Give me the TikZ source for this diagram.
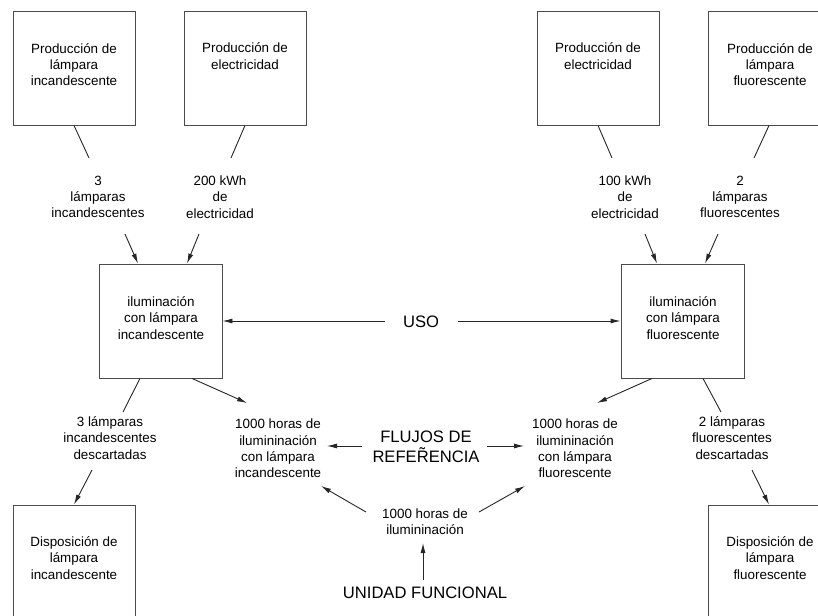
\documentclass[tikz,border=0pt]{standalone}
\usepackage{fontspec}
\setmainfont{Liberation Sans}
\usetikzlibrary{arrows.meta,calc}
\begin{document}
\begin{tikzpicture}[x=1pt,y=-1pt,
  box/.style={draw=black!70, line width=0.9pt, minimum width=122pt, minimum height=114pt, inner sep=0pt},
  lowbox/.style={box, minimum height=125pt},
  small/.style={font=\fontsize{13.4}{16.3}\selectfont, align=center, inner sep=0pt},
  big/.style={font=\fontsize{16.6}{20}\selectfont, align=center, inner sep=0pt},
  link/.style={draw=black!85, line width=0.9pt},
  flow/.style={link, -{Latex[length=10pt,width=5pt]}}]
\useasboundingbox (0,0) rectangle (818,615);

% production processes
\node[box] (p1) at (74,68) {};
\node[small] (p1t) at (74,64.5) {Producción de\\lámpara\\incandescente};
\node[box] (p2) at (245,68) {};
\node[small] (p2t) at (245,56) {Producción de\\electricidad};
\node[box] (p3) at (598,68) {};
\node[small] (p3t) at (598,56) {Producción de\\electricidad};
\node[box] (p4) at (769,68) {};
\node[small] (p4t) at (770,64.5) {Producción de\\lámpara\\fluorescente};

% inputs to the use phase
\node[small] (l1) at (98,197) {3\\lámparas\\incandescentes};
\node[small] (l2) at (220,197) {200 kWh\\de\\electricidad};
\node[small] (l3) at (625,197) {100 kWh\\de\\electricidad};
\node[small] (l4) at (740,197) {2\\lámparas\\fluorescentes};

% use phase
\node[box, minimum width=123pt] (u1) at (160.5,321) {};
\node[small] (u1t) at (161,318) {iluminación\\con lámpara\\incandescente};
\node[box, minimum width=123pt] (u2) at (682.5,321) {};
\node[small] (u2t) at (683,318) {iluminación\\con lámpara\\fluorescente};

% outputs
\node[small] (d1) at (110,438) {3 lámparas\\incandescentes\\descartadas};
\node[small] (d2) at (732,438) {2 lámparas\\fluorescentes\\descartadas};
\node[small] (r1) at (278,448.5) {1000 horas de\\ilumininación\\con lámpara\\incandescente};
\node[small] (r2) at (575,448.5) {1000 horas de\\ilumininación\\con lámpara\\fluorescente};
\node[small] (fu) at (425,522) {1000 horas de\\ilumininación};

% disposal
\node[lowbox] (e1) at (74,567.5) {};
\node[small] (e1t) at (74,558) {Disposición de\\lámpara\\incandescente};
\node[lowbox] (e2) at (769,567.5) {};
\node[small] (e2t) at (770,558) {Disposición de\\lámpara\\fluorescente};

% headings
\node[big] (uso) at (421,322) {USO};
\node[big] (flujos) at (426,447) {FLUJOS DE\\REFE\~RENCIA};
\node[big] (unidad) at (425,593) {UNIDAD FUNCIONAL};

% free ends of the connectors
\coordinate (c1) at (89,158);
\coordinate (c2) at (231,158);
\coordinate (c3) at (612,158);
\coordinate (c4) at (754,158);
\coordinate (a1) at (125,234);
\coordinate (a2) at (199,234);
\coordinate (a3) at (645,234);
\coordinate (a4) at (718,234);
\coordinate (s1) at (385,321);
\coordinate (s2) at (458,321);
\coordinate (c5) at (123,412);
\coordinate (c6) at (721,412);
\coordinate (t1) at (247,403);
\coordinate (t2) at (597,403);
\coordinate (a5) at (92,470);
\coordinate (a6) at (752,470);
\coordinate (fl1) at (362,446);
\coordinate (fl2) at (487,446);
\coordinate (ft1) at (327,446);
\coordinate (ft2) at (524,446);
\coordinate (g1) at (366,512);
\coordinate (g2) at (479,512);
\coordinate (gt1) at (321,486);
\coordinate (gt2) at (525,486);
\coordinate (h1) at (423,580);
\coordinate (h2) at (423,543);

% upstream links
\draw[link] (p1.south) -- (c1);
\draw[link] (p2.south) -- (c2);
\draw[link] (p3.south) -- (c3);
\draw[link] (p4.south) -- (c4);
\draw[flow] (a1) -- ($(u1.north)+(-22.5,0)$);
\draw[flow] (a2) -- ($(u1.north)+(26.5,0)$);
\draw[flow] (a3) -- ($(u2.north)+(-25.5,0)$);
\draw[flow] (a4) -- ($(u2.north)+(22.5,0)$);

% use
\draw[flow] (s1) -- (u1.east);
\draw[flow] (s2) -- (u2.west);

% downstream links
\draw[link] ($(u1.south)+(-20.5,0)$) -- (c5);
\draw[link] ($(u2.south)+(20.5,0)$) -- (c6);
\draw[flow] ($(u1.south)+(31.5,0)$) -- (t1);
\draw[flow] ($(u2.south)+(-30.5,0)$) -- (t2);
\draw[flow] (a5) -- (e1.north);
\draw[flow] (a6) -- (e2.north);

% reference flows and functional unit
\draw[flow] (fl1) -- (ft1);
\draw[flow] (fl2) -- (ft2);
\draw[flow] (g1) -- (gt1);
\draw[flow] (g2) -- (gt2);
\draw[flow] (h1) -- (h2);
\end{tikzpicture}
\end{document}
